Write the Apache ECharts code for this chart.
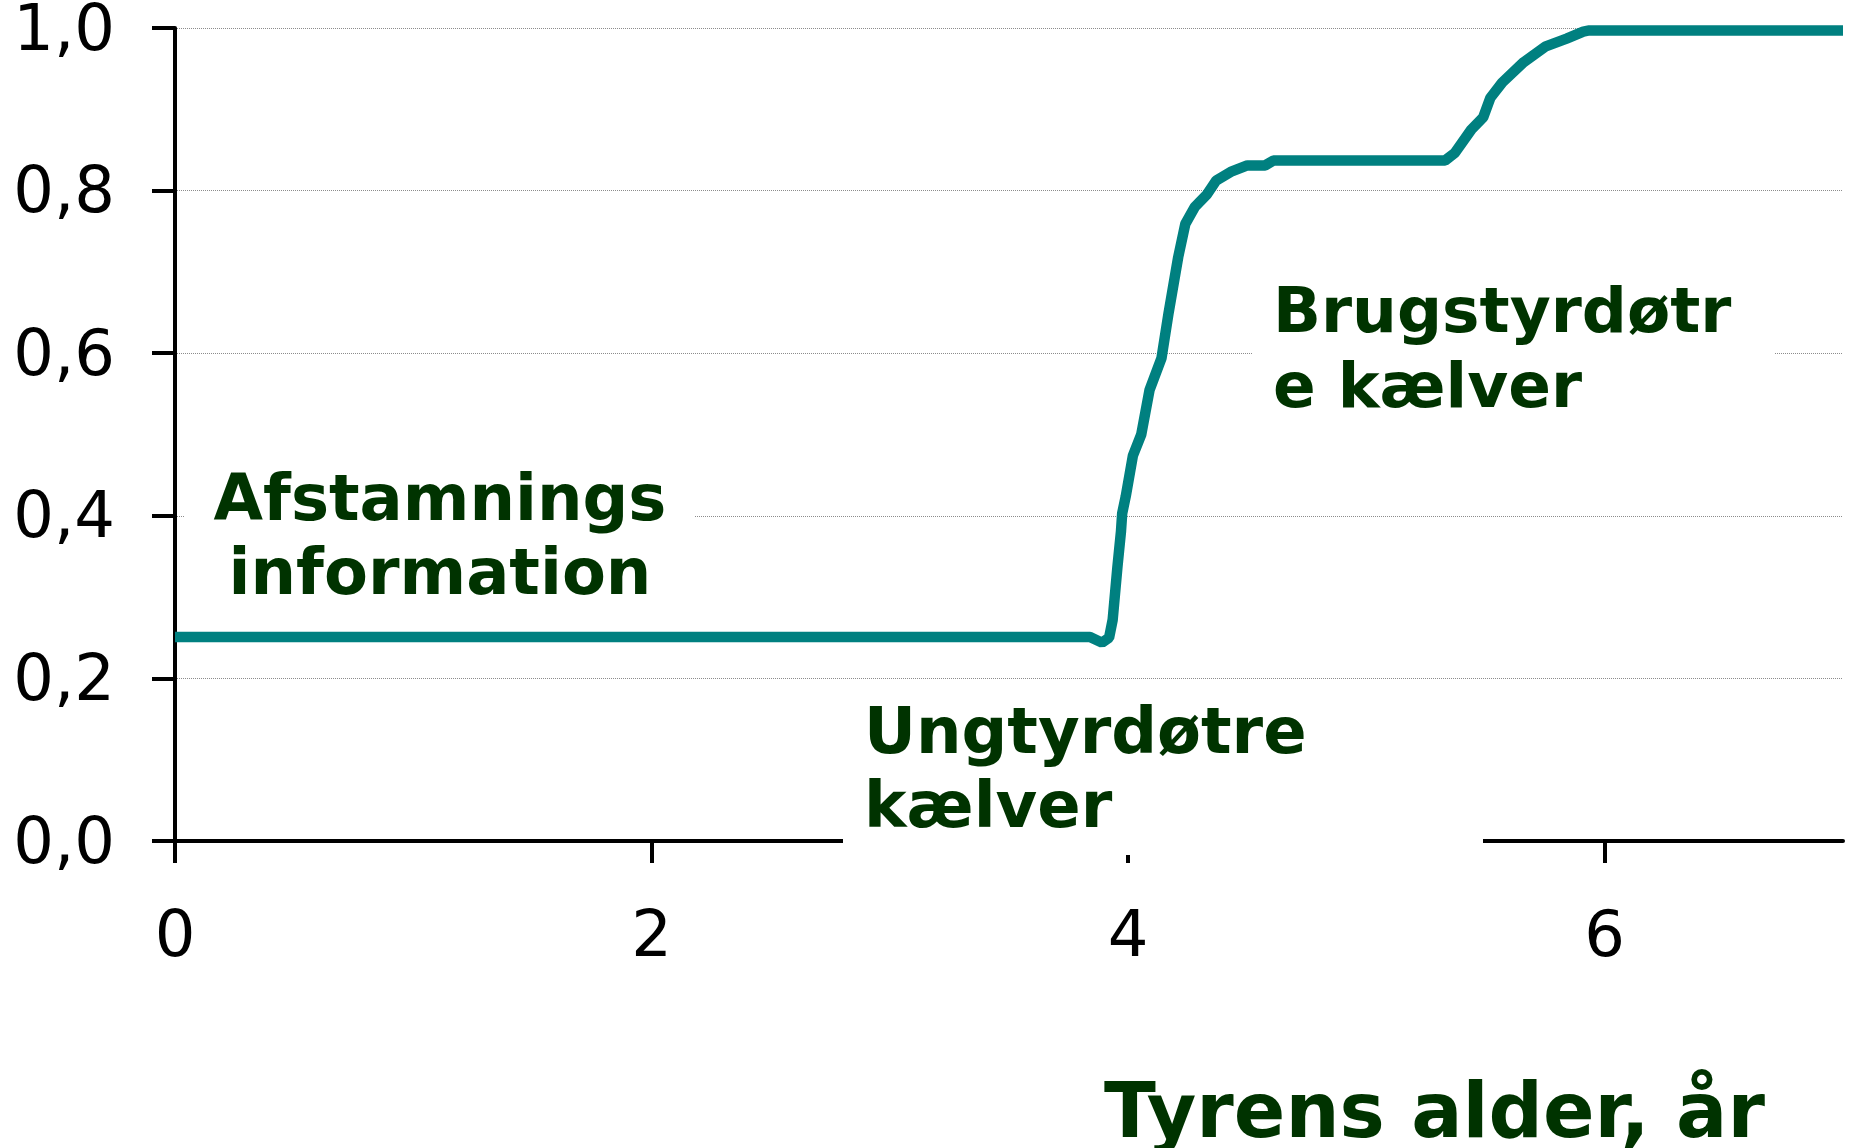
<!DOCTYPE html>
<html>
<head>
<meta charset="utf-8">
<title>Sikkerhed efter tyrens alder</title>
<script src="https://cdn.jsdelivr.net/npm/echarts@6/dist/echarts.min.js"></script>
<style>
  html, body { margin: 0; padding: 0; background: #fff; }
  #chart { width: 1852px; height: 1148px; }
</style>
</head>
<body>
<div id="chart"></div>
<script>
// tyrens alder (år) og sikkerhed
var ageYears = [0, 3.84, 3.89, 3.92, 3.935, 3.955, 3.97, 3.975, 3.99, 4.02, 4.055, 4.09, 4.14,
  4.17, 4.21, 4.24, 4.28, 4.33, 4.37, 4.43, 4.50, 4.575, 4.61, 5.33, 5.37, 5.44, 5.49,
  5.52, 5.57, 5.66, 5.75, 5.84, 5.91, 5.935, 7.0];
var reliability = [0.251, 0.251, 0.244, 0.25, 0.272, 0.337, 0.381, 0.403, 0.424, 0.474, 0.5, 0.555, 0.594,
  0.65, 0.718, 0.759, 0.78, 0.795, 0.8125, 0.823, 0.831, 0.831, 0.837, 0.837, 0.846, 0.875, 0.89,
  0.914, 0.933, 0.958, 0.977, 0.987, 0.9956, 0.997, 0.997];
var xTicks = [0, 2, 4, 6];
var xTitle = 'Tyrens alder, år';

var textGreen = '#003300';
var font = 'DejaVu Sans';

var points = ageYears.map(function (a, i) { return [a, reliability[i]]; });

var myChart = echarts.init(document.getElementById('chart'));

var option = {
  animation: false,
  backgroundColor: '#ffffff',
  grid: { left: 175, right: 9, top: 28, bottom: 307, containLabel: false, outerBoundsMode: 'none' },
  xAxis: {
    type: 'value',
    min: 0,
    max: 7,
    interval: 2,
    axisLine: { show: true, lineStyle: { color: '#000', width: 4 } },
    axisTick: { show: true, length: 22, customValues: xTicks, lineStyle: { color: '#000', width: 4 } },
    axisLabel: {
      customValues: xTicks,
      margin: 66,
      fontSize: 64,
      fontFamily: font,
      color: '#000'
    },
    splitLine: { show: false }
  },
  yAxis: {
    type: 'value',
    min: 0,
    max: 1,
    interval: 0.2,
    axisLine: { show: true, lineStyle: { color: '#000', width: 4 } },
    axisTick: { show: true, length: 23, lineStyle: { color: '#000', width: 4 } },
    axisLabel: {
      margin: 60,
      fontSize: 64,
      fontFamily: font,
      color: '#000',
      verticalAlign: 'top',
      lineHeight: 10,
      formatter: function (v) { return v.toFixed(1).replace('.', ','); }
    },
    splitLine: { show: true, lineStyle: { color: '#8c8c8c', width: 1, type: 'dotted' } }
  },
  series: [{
    type: 'line',
    data: points,
    showSymbol: false,
    symbol: 'none',
    lineStyle: { color: '#008080', width: 10.5 },
    z: 3
  }],
  graphic: [
    // hvide tekstfelter som i originalen
    { type: 'rect', z: 100, shape: { x: 184, y: 452, width: 511, height: 168 }, style: { fill: '#fff' } },
    { type: 'rect', z: 100, shape: { x: 843, y: 695, width: 640, height: 160 }, style: { fill: '#fff' } },
    { type: 'rect', z: 100, shape: { x: 1252, y: 262, width: 523, height: 182 }, style: { fill: '#fff' } },
    {
      type: 'text', z: 101, x: 440, y: 466,
      style: {
        text: 'Afstamnings\ninformation', textAlign: 'center', textVerticalAlign: 'top',
        font: 'bold 64px "DejaVu Sans"', lineHeight: 74, fill: textGreen
      }
    },
    {
      type: 'text', z: 101, x: 864, y: 699,
      style: {
        text: 'Ungtyrdøtre\nkælver', textAlign: 'left', textVerticalAlign: 'top',
        font: 'bold 64px "DejaVu Sans"', lineHeight: 74, fill: textGreen
      }
    },
    {
      type: 'text', z: 101, x: 1273, y: 278,
      style: {
        text: 'Brugstyrdøtr\ne kælver', textAlign: 'left', textVerticalAlign: 'top',
        font: 'bold 63px "DejaVu Sans"', lineHeight: 75, fill: textGreen
      }
    },
    {
      type: 'text', z: 101, x: 1104, y: 1117,
      style: {
        text: xTitle, textAlign: 'left', textVerticalAlign: 'middle',
        font: 'bold 76px "DejaVu Sans"', fill: textGreen
      }
    }
  ]
};

myChart.setOption(option, true);

window.onresize = function () {
  myChart.resize();
};
</script>
</body>
</html>
